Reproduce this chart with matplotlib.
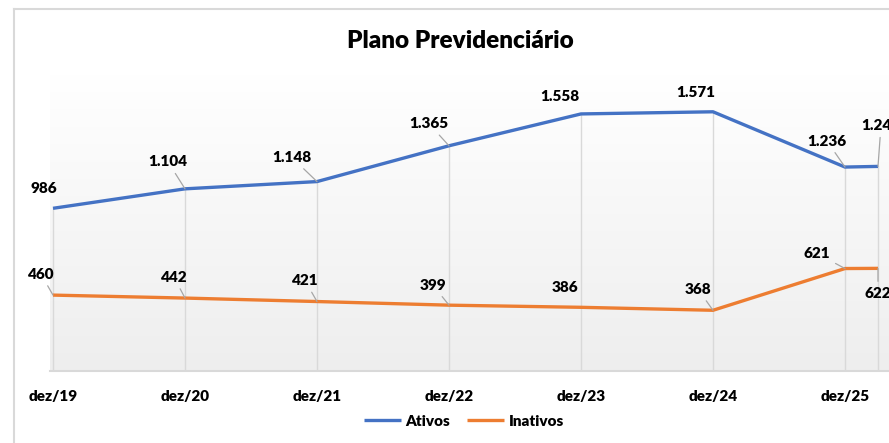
import matplotlib
matplotlib.use("Agg")
import matplotlib.pyplot as plt
import matplotlib.lines as mlines
from matplotlib.colors import LinearSegmentedColormap
import numpy as np

plt.rcParams['font.family'] = ['Lato', 'DejaVu Sans']

# data (x in years after dez/19; last point is 3 months after dez/25)
periodos = [0, 1, 2, 3, 4, 5, 6, 6.25]
tick_pos = [0, 1, 2, 3, 4, 5, 6]
tick_labels = ['dez/19', 'dez/20', 'dez/21', 'dez/22', 'dez/23', 'dez/24', 'dez/25']
ativos = [986, 1104, 1148, 1365, 1558, 1571, 1236, 1240]
inativos = [460, 442, 421, 399, 386, 368, 621, 622]

# label offsets in pixels (dx, dy) and whether a leader line is drawn
off_ativos = [(-9, 20), (-17, 27), (-25, 24), (-20, 22), (-21, 17), (-17, 19), (-18, 26), (3, 41)]
lead_ativos = [False, True, True, True, False, False, True, True]
off_inativos = [(-12, 21), (-11, 21), (-12, 21), (-16, 20), (-16, 20), (-15, 21), (-28, 15), (0, -25)]
lead_inativos = [True, True, True, True, False, True, True, True]

W, H = 889, 443
fig = plt.figure(figsize=(W / 100, H / 100), dpi=100)
fig.patch.set_facecolor('white')

# outer chart frame (partly visible)
fig.add_artist(mlines.Line2D([14 / W, 14 / W], [0, 1 - 9 / H], color='#d9d9d9', lw=1.5))
fig.add_artist(mlines.Line2D([14 / W, 1], [1 - 9 / H, 1 - 9 / H], color='#d9d9d9', lw=1.5))

ax_left, ax_right = 50, 905
ax_bottom, ax_top = 371, 74
ax = fig.add_axes([ax_left / W, 1 - ax_bottom / H, (ax_right - ax_left) / W, (ax_bottom - ax_top) / H])

px_per_year = 132
ax.set_xlim((ax_left - 53) / px_per_year, (ax_right - 53) / px_per_year)
ax.set_ylim(0, 1800)

# gradient background of plot area
grad = np.linspace(0, 1, 256).reshape(-1, 1)
cmap = LinearSegmentedColormap.from_list('bg', ['#ffffff', '#eeeeee'])
ax.imshow(grad, extent=[0, 1, 0, 1], transform=ax.transAxes, cmap=cmap,
          aspect='auto', zorder=0, origin='upper')

# drop lines
for x, a in zip(periodos, ativos):
    ax.plot([x, x], [0, a], color='#d9d9d9', lw=1.0, zorder=1)

ax.plot(periodos, ativos, color='#4472C4', lw=2.4, label='Ativos', zorder=3,
        solid_capstyle='butt')
ax.plot(periodos, inativos, color='#ED7D31', lw=2.4, label='Inativos', zorder=3,
        solid_capstyle='butt')

def fmt(v):
    return f'{v:,}'.replace(',', '.')

def add_labels(vals, offs, leads):
    for x, v, (dx, dy), ld in zip(periodos, vals, offs, leads):
        arrow = dict(arrowstyle='-', color='#a6a6a6', lw=0.9, shrinkA=2, shrinkB=0) if ld else None
        ax.annotate(fmt(v), xy=(x, v), xytext=(dx, dy), textcoords='offset pixels',
                    ha='center', va='center', fontsize=11, fontweight='heavy',
                    color='black', arrowprops=arrow, zorder=4, annotation_clip=False)

add_labels(ativos, off_ativos, lead_ativos)
add_labels(inativos, off_inativos, lead_inativos)

ax.set_xticks(tick_pos)
ax.set_xticklabels(tick_labels, fontsize=11, fontweight='heavy')
ax.tick_params(axis='x', length=0, pad=14)
ax.set_yticks([])
for s in ['top', 'right', 'left']:
    ax.spines[s].set_visible(False)
ax.spines['bottom'].set_color('#d9d9d9')
ax.spines['bottom'].set_linewidth(1.5)

fig.text(460 / W, 1 - 41 / H, 'Plano Previdenciário', ha='center', va='center',
         fontsize=17.5, fontweight='heavy')

fig.legend(loc='center', bbox_to_anchor=(464 / W, 1 - 421 / H), ncol=2, frameon=False,
           prop={'weight': 'heavy', 'size': 11}, handlelength=2.4, handletextpad=0.3,
           columnspacing=1.1)

fig.savefig('out.png', dpi=100)
